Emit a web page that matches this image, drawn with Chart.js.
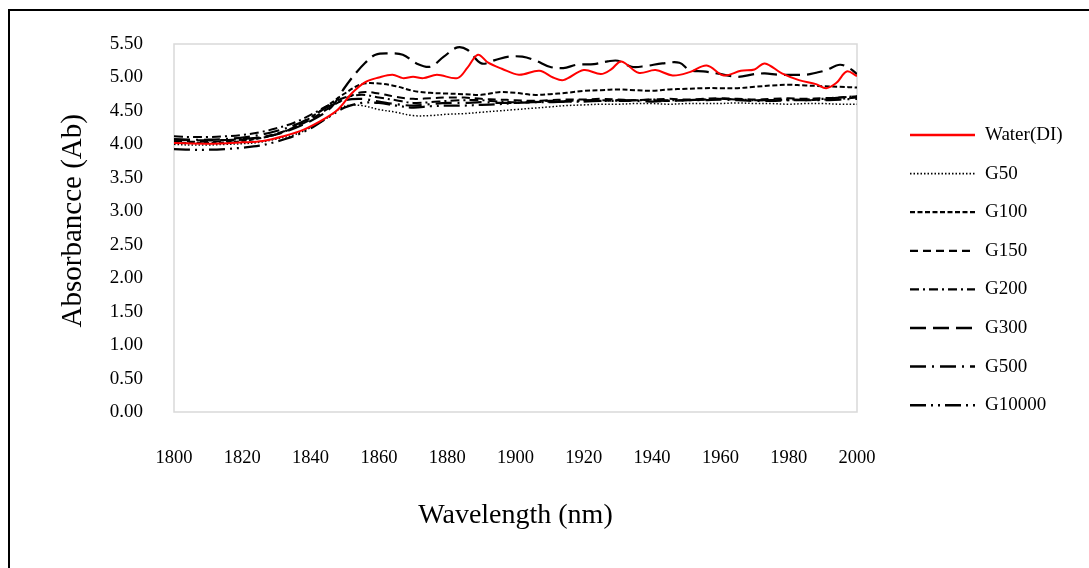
<!DOCTYPE html>
<html>
<head>
<meta charset="utf-8">
<script src="https://cdn.jsdelivr.net/npm/chart.js@4/dist/chart.umd.min.js"></script>
<style>
  html, body { margin: 0; padding: 0; background: #fff; }
  #wrap { position: relative; width: 1089px; height: 568px; overflow: hidden; }
  #frame { position: absolute; left: 8px; top: 9px; width: 1100px; height: 600px;
           border-left: 2px solid #000; border-top: 2px solid #000; pointer-events: none; }
  canvas { position: absolute; left: 0; top: 0; }
</style>
</head>
<body>
<div id="wrap">
  <canvas id="c" width="1089" height="568"></canvas>
  <div id="frame"></div>
</div>
<script>
// ---- data ----
const wavelength = [1800,1805,1810,1815,1820,1825,1830,1835,1840,1845,1850,1855,1860,1865,1870,1875,1880,1885,1890,1895,1900,
  1905,1910,1915,1920,1925,1930,1935,1940,1945,1950,1955,1960,1965,1970,1975,1980,1985,1990,1995,2000];

const wlWater = [1800,1810,1820,1826,1832,1838,1844,1848,1852,1856,1860,1864,1867,1870,1873,1877,1883,1886,1889,1892,1896,
  1901,1907,1911,1914,1920,1925,1928,1931,1936,1941,1946,1951,1956,1961,1966,1970,1973,1978,1983,1988,1991,1994,1997,2000];
const water = [4.02,4.01,4.03,4.05,4.12,4.22,4.38,4.52,4.76,4.93,5.00,5.04,4.99,5.01,4.99,5.04,4.99,5.15,5.34,5.22,5.13,
  5.04,5.10,5.00,4.96,5.11,5.05,5.12,5.24,5.07,5.11,5.03,5.08,5.18,5.03,5.10,5.12,5.21,5.06,4.96,4.90,4.84,4.92,5.09,5.02];

const wlG300 = [1800,1810,1820,1830,1840,1846,1850,1853,1856,1859,1863,1867,1871,1875,1879,1883,1886,1890,1894,1898,1902,
  1906,1910,1914,1918,1923,1927,1930,1934,1938,1943,1948,1951,1955,1959,1965,1970,1973,1977,1981,1985,1988,1991,1995,1998,2000];
const g300 = [4.07,4.06,4.08,4.15,4.35,4.55,4.85,5.05,5.22,5.34,5.36,5.34,5.21,5.16,5.31,5.45,5.41,5.21,5.26,5.31,5.31,
  5.25,5.16,5.14,5.19,5.20,5.24,5.25,5.16,5.17,5.21,5.22,5.11,5.09,5.06,5.01,5.05,5.06,5.04,5.04,5.04,5.07,5.11,5.19,5.13,5.05];

const g50 = [4.00,3.99,3.99,4.00,4.01,4.03,4.08,4.14,4.25,4.40,4.57,4.58,4.52,4.48,4.43,4.43,4.45,4.46,4.48,4.50,4.52,
  4.54,4.56,4.58,4.59,4.60,4.60,4.61,4.61,4.60,4.61,4.61,4.61,4.62,4.61,4.61,4.60,4.61,4.61,4.60,4.60];
const g100 = [4.03,4.02,4.02,4.03,4.05,4.09,4.15,4.25,4.40,4.58,4.76,4.90,4.91,4.87,4.80,4.77,4.76,4.75,4.74,4.78,4.77,
  4.74,4.75,4.77,4.80,4.81,4.82,4.81,4.80,4.82,4.83,4.84,4.84,4.84,4.86,4.88,4.89,4.88,4.87,4.86,4.85];
const g150 = [4.05,4.04,4.04,4.05,4.07,4.10,4.16,4.25,4.37,4.53,4.68,4.78,4.76,4.71,4.68,4.69,4.70,4.70,4.68,4.67,4.66,
  4.65,4.66,4.67,4.67,4.68,4.67,4.66,4.67,4.68,4.67,4.68,4.69,4.68,4.67,4.68,4.69,4.68,4.69,4.70,4.72];
const g200 = [4.12,4.11,4.11,4.12,4.14,4.18,4.24,4.32,4.44,4.58,4.70,4.74,4.70,4.66,4.62,4.63,4.65,4.66,4.66,4.64,4.63,
  4.64,4.65,4.65,4.66,4.66,4.65,4.66,4.67,4.66,4.66,4.67,4.68,4.67,4.66,4.66,4.67,4.66,4.67,4.68,4.70];
const g500 = [4.08,4.07,4.07,4.08,4.10,4.14,4.20,4.28,4.40,4.56,4.66,4.68,4.64,4.60,4.58,4.60,4.62,4.62,4.63,4.62,4.62,
  4.63,4.64,4.64,4.65,4.65,4.66,4.65,4.64,4.65,4.66,4.66,4.67,4.66,4.65,4.65,4.66,4.66,4.66,4.67,4.68];
const g10000 = [3.93,3.92,3.92,3.93,3.95,3.98,4.04,4.12,4.24,4.40,4.55,4.62,4.62,4.58,4.55,4.57,4.58,4.58,4.59,4.60,4.62,
  4.63,4.63,4.64,4.64,4.65,4.65,4.66,4.66,4.65,4.66,4.67,4.68,4.67,4.66,4.66,4.66,4.67,4.68,4.70,4.72];

const seriesLabels = ['Water(DI)','G50','G100','G150','G200','G300','G500','G10000'];
const yTicks = [0,0.5,1,1.5,2,2.5,3,3.5,4,4.5,5,5.5];
const xTicks = [1800,1820,1840,1860,1880,1900,1920,1940,1960,1980,2000];

const pts = (xs, ys) => xs.map((x, i) => ({x: x, y: ys[i]}));

const serif = '"Liberation Serif", "Times New Roman", serif';

function ds(label, xs, ys, color, dash, width) {
  return { label, data: pts(xs, ys), borderColor: color, backgroundColor: color,
           borderDash: dash, borderWidth: width, pointRadius: 0, tension: 0.35, fill: false };
}

const datasets = [
  ds(seriesLabels[0], wlWater, water, '#ff0000', [], 2),
  ds(seriesLabels[1], wavelength, g50, '#000', [1.5, 2], 1.5),
  ds(seriesLabels[2], wavelength, g100, '#000', [5, 2.5], 2),
  ds(seriesLabels[3], wavelength, g150, '#000', [8, 5], 2),
  ds(seriesLabels[4], wavelength, g200, '#000', [9, 4, 2, 4], 2),
  ds(seriesLabels[5], wlG300, g300, '#000', [16, 7], 2.2),
  ds(seriesLabels[6], wavelength, g500, '#000', [16, 6, 2, 6], 2.2),
  ds(seriesLabels[7], wavelength, g10000, '#000', [16, 5, 2, 5, 2, 5], 2.2)
];

const plotFrame = {
  id: 'plotFrame',
  beforeDatasetsDraw(chart) {
    const a = chart.chartArea, ctx = chart.ctx;
    ctx.save();
    ctx.strokeStyle = '#d9d9d9';
    ctx.lineWidth = 1.5;
    ctx.strokeRect(a.left, a.top, a.right - a.left, a.bottom - a.top);
    ctx.restore();
  }
};

const sideLegend = {
  id: 'sideLegend',
  afterDraw(chart) {
    const ctx = chart.ctx;
    const x0 = 910, x1 = 975, tx = 985, y0 = 135, dy = 38.6;
    ctx.save();
    chart.data.datasets.forEach((d, i) => {
      const y = y0 + i * dy;
      ctx.beginPath();
      ctx.setLineDash(d.borderDash || []);
      ctx.strokeStyle = d.borderColor;
      ctx.lineWidth = d.borderWidth + 0.3;
      ctx.moveTo(x0, y);
      ctx.lineTo(x1, y);
      ctx.stroke();
      ctx.setLineDash([]);
      ctx.fillStyle = '#000';
      ctx.font = '19px ' + serif;
      ctx.textBaseline = 'middle';
      ctx.textAlign = 'left';
      ctx.fillText(d.label, tx, y);
    });
    ctx.restore();
  }
};

new Chart(document.getElementById('c'), {
  type: 'line',
  data: { datasets },
  options: {
    responsive: false,
    animation: false,
    layout: { padding: { top: 44, right: 232, left: 0, bottom: 0 } },
    plugins: { legend: { display: false }, tooltip: { enabled: false } },
    scales: {
      x: {
        type: 'linear', min: 1800, max: 2000,
        afterBuildTicks: s => { s.ticks = xTicks.map(v => ({ value: v })); },
        afterFit: s => { s.height = 156; },
        grid: { display: false, drawTicks: false },
        border: { display: false },
        ticks: { color: '#000', font: { family: serif, size: 18.5 }, padding: 35, maxRotation: 0,
                 callback: v => String(v) },
        title: { display: true, text: 'Wavelength (nm)', color: '#000',
                 font: { family: serif, size: 28 }, padding: { top: 0, bottom: 36 } }
      },
      y: {
        min: 0, max: 5.5,
        afterBuildTicks: s => { s.ticks = yTicks.map(v => ({ value: v })); },
        afterFit: s => { s.width = 174; },
        grid: { display: false, drawTicks: false },
        border: { display: false },
        ticks: { color: '#000', font: { family: serif, size: 19 }, padding: 31,
                 callback: v => Number(v).toFixed(2) },
        title: { display: true, text: '  Absorbancce (Ab)', color: '#000',
                 font: { family: serif, size: 29 }, padding: { top: 56, bottom: 0 } }
      }
    }
  },
  plugins: [plotFrame, sideLegend]
});
</script>
</body>
</html>
